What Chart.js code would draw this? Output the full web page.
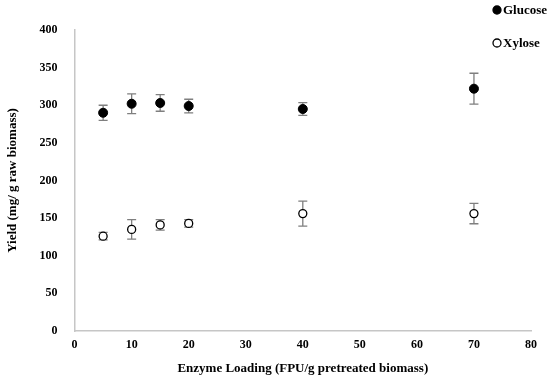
<!DOCTYPE html>
<html>
<head>
<meta charset="utf-8">
<script src="https://cdn.jsdelivr.net/npm/chart.js@4"></script>
<style>
html, body { margin: 0; padding: 0; background: #fff; }
#wrap { width: 550px; height: 379px; }
</style>
</head>
<body>
<div id="wrap"><canvas id="myChart"></canvas></div>
<script>
const enzymeLoading = [5, 10, 15, 20, 40, 70];
const glucose = [290, 302, 303, 299, 295, 322];
const glucoseErr = [10, 13, 11, 9, 8.5, 20.5];
const xylose = [126, 135, 141, 143, 156, 156];
const xyloseErr = [5, 13, 7, 5, 16.5, 13.5];
const xTicks = [0, 10, 20, 30, 40, 50, 60, 70, 80];
const yTicks = [0, 50, 100, 150, 200, 250, 300, 350, 400];

const serif = "'Liberation Serif', 'Times New Roman', serif";
const axisColor = '#c6c6c6';

// error bars drawn behind the markers
const errorBars = {
    id: 'errorBars',
    beforeDatasetsDraw(chart) {
        const {ctx, scales: {x, y}} = chart;
        ctx.save();
        ctx.strokeStyle = '#7f7f7f';
        ctx.lineWidth = 1.3;
        chart.data.datasets.forEach((ds) => {
            ds.data.forEach((p, j) => {
                const px = x.getPixelForValue(p.x);
                const top = y.getPixelForValue(p.y + ds.errors[j]);
                const bot = y.getPixelForValue(p.y - ds.errors[j]);
                ctx.beginPath();
                ctx.moveTo(px, top); ctx.lineTo(px, bot);
                ctx.moveTo(px - 4.5, top); ctx.lineTo(px + 4.5, top);
                ctx.moveTo(px - 4.5, bot); ctx.lineTo(px + 4.5, bot);
                ctx.stroke();
            });
        });
        ctx.restore();
    }
};

// legend stacked in the top right corner
const cornerLegend = {
    id: 'cornerLegend',
    afterDraw(chart) {
        const ctx = chart.ctx;
        ctx.save();
        ctx.font = 'bold 13px ' + serif;
        ctx.textBaseline = 'middle';
        chart.data.datasets.forEach((ds, i) => {
            const x = 497, y = 10 + i * 33;
            ctx.beginPath();
            ctx.arc(x, y, 4, 0, Math.PI * 2);
            ctx.fillStyle = ds.pointBackgroundColor;
            ctx.fill();
            ctx.lineWidth = 1.3;
            ctx.strokeStyle = ds.pointBorderColor;
            ctx.stroke();
            ctx.fillStyle = '#000';
            ctx.fillText(ds.label, x + 6, y + 1);
        });
        ctx.restore();
    }
};

new Chart(document.getElementById('myChart'), {
    type: 'scatter',
    data: {
        datasets: [{
            label: 'Glucose',
            data: enzymeLoading.map((v, i) => ({x: v, y: glucose[i]})),
            errors: glucoseErr,
            pointRadius: 4.5,
            pointBackgroundColor: '#000',
            pointBorderColor: '#000',
            pointBorderWidth: 1
        }, {
            label: 'Xylose',
            data: enzymeLoading.map((v, i) => ({x: v, y: xylose[i]})),
            errors: xyloseErr,
            pointRadius: 4,
            pointBackgroundColor: '#fff',
            pointBorderColor: '#000',
            pointBorderWidth: 1.3
        }]
    },
    options: {
        responsive: true,
        maintainAspectRatio: false,
        animation: false,
        layout: { padding: { top: 30, right: 19, left: 1, bottom: 3 } },
        plugins: {
            legend: { display: false },
            tooltip: { enabled: false }
        },
        scales: {
            x: {
                type: 'linear',
                min: 0, max: 80,
                afterBuildTicks: (s) => { s.ticks = xTicks.map(v => ({value: v})); },
                grid: { display: false, drawTicks: false },
                border: { color: axisColor, width: 1.5 },
                ticks: { color: '#000', padding: 7, font: { family: serif, size: 12, weight: 'bold' } },
                title: {
                    display: true,
                    text: 'Enzyme Loading (FPU/g pretreated biomass)',
                    color: '#000',
                    padding: { top: 1, bottom: 0 },
                    font: { family: serif, size: 13, weight: 'bold' }
                }
            },
            y: {
                min: 0, max: 400,
                afterBuildTicks: (s) => { s.ticks = yTicks.map(v => ({value: v})); },
                grid: { display: false, drawTicks: false },
                border: { color: axisColor, width: 1.5 },
                ticks: { color: '#000', padding: 17, font: { family: serif, size: 12, weight: 'bold' } },
                title: {
                    display: true,
                    text: 'Yield (mg/ g raw biomass)',
                    color: '#000',
                    padding: { top: 4, bottom: 2 },
                    font: { family: serif, size: 13, weight: 'bold' }
                }
            }
        }
    },
    plugins: [errorBars, cornerLegend]
});
</script>
</body>
</html>
